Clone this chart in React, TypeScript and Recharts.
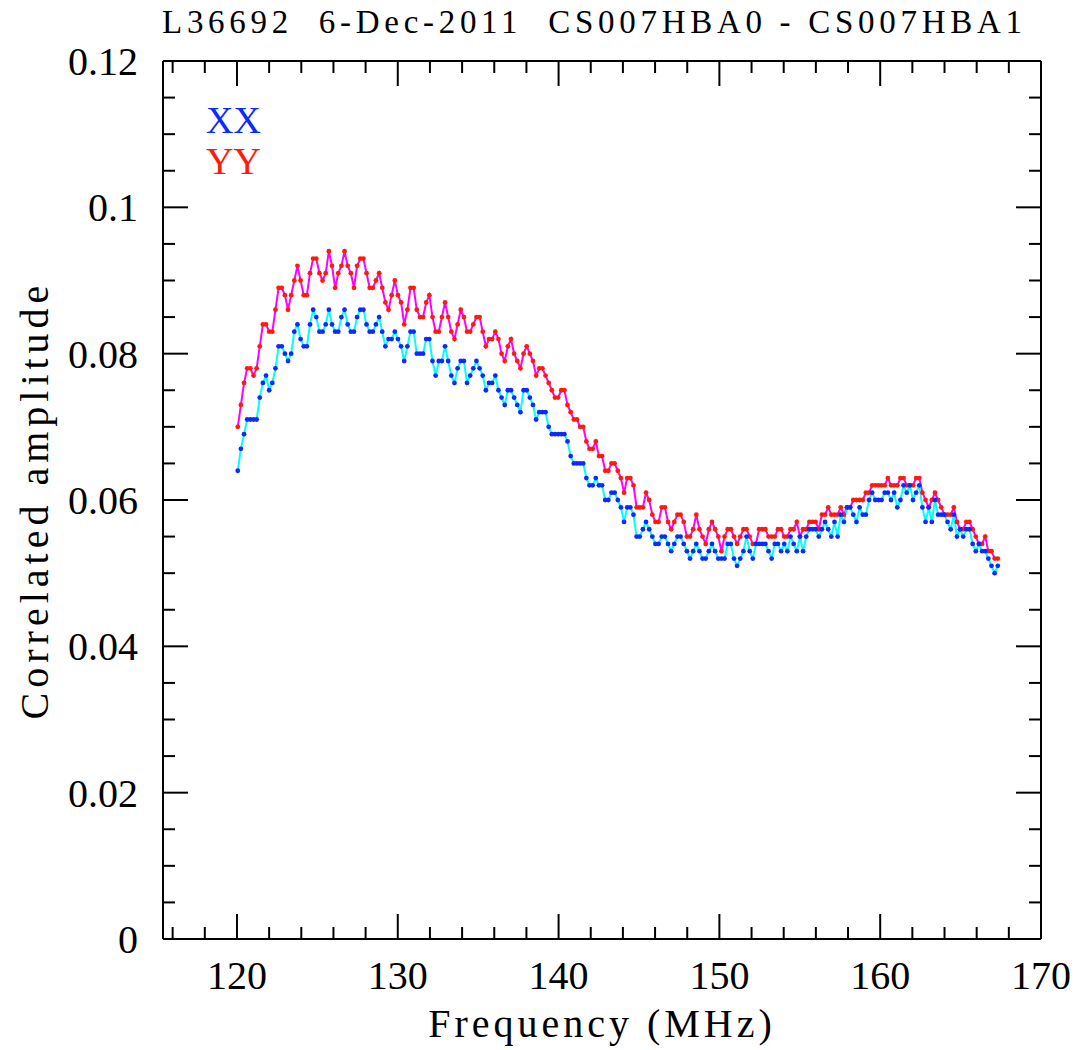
import { LineChart, Line, XAxis, YAxis } from 'recharts'

// correlated amplitude per subband, units of 1e-3
const xxAmp = [
  64, 67, 69, 71, 71, 71, 71, 74, 76, 77, 75, 76, 78, 81, 81, 80, 79, 80, 83, 84, 82, 81, 81, 84, 86, 85, 83, 83, 84,
  86, 84, 83, 83, 85, 86, 84, 83, 83, 85, 86, 86, 84, 83, 83, 84, 85, 83, 81, 82, 82, 83, 82, 81, 79, 81, 83, 83, 80, 80, 80, 82,
  82, 79, 77, 79, 79, 81, 79, 77, 76, 78, 79, 79, 76, 77, 78, 79, 78, 77, 75, 76, 76, 77, 75, 74, 73, 75, 75, 74, 73, 72, 75, 75, 74, 73, 71, 72, 72, 72,
  70, 69, 69, 69, 69, 69, 68, 66, 65, 65, 65, 65, 63, 62, 62, 63, 62, 62, 60, 60, 61, 61, 60, 59, 57, 59, 59, 58, 55, 55, 56, 57,
  56, 55, 54, 54, 55, 55, 54, 53, 54, 55, 55, 54, 53, 52, 53, 54, 53, 52, 52, 53, 54, 53, 52, 52, 52, 54, 54, 52, 51, 52, 53, 55, 53, 52, 54, 54, 54, 54, 53,
  52, 54, 54, 53, 54, 53, 55, 54, 53, 55, 53, 55, 56, 56, 56, 55, 56, 57, 56, 55, 57, 55, 58, 57, 59, 59, 58, 57, 59, 58, 58, 60, 61, 60, 60, 60, 61, 61,
  60, 61, 59, 60, 62, 61, 62, 60, 61, 62, 59, 57, 59, 57, 60, 58, 58, 58, 57, 56, 58, 55, 56, 55, 56, 56, 54, 53, 54, 53, 53, 52, 51, 50, 51,
]

const yyAmp = [
  70, 73, 76, 78, 78, 77, 78, 81, 84, 84, 83, 83, 86, 89, 89, 88, 86, 88, 90, 92, 90, 88, 88, 91, 93, 93, 91, 90, 91,
  94, 92, 89, 91, 92, 94, 92, 91, 89, 92, 93, 93, 91, 89, 89, 90, 91, 89, 87, 86, 88, 90, 88, 87, 84, 86, 89, 89, 86, 85, 85, 87,
  88, 85, 83, 83, 85, 87, 85, 83, 82, 84, 86, 85, 83, 83, 84, 85, 85, 83, 81, 82, 82, 83, 82, 80, 79, 81, 82, 80, 79, 78, 80, 81, 80, 79, 77, 78, 78, 77,
  76, 75, 74, 74, 75, 75, 73, 72, 71, 71, 70, 70, 68, 67, 67, 68, 66, 66, 64, 64, 65, 65, 64, 63, 61, 63, 63, 62, 59, 59, 59, 61,
  60, 58, 57, 57, 59, 59, 57, 56, 57, 58, 58, 57, 55, 55, 56, 58, 56, 55, 54, 56, 57, 56, 55, 53, 55, 56, 56, 55, 54, 55, 56, 56, 55, 54, 54, 56, 56, 56, 55,
  55, 55, 56, 56, 55, 55, 56, 56, 57, 55, 56, 56, 57, 57, 57, 56, 58, 58, 59, 58, 58, 58, 59, 58, 59, 59, 60, 60, 60, 60, 61, 61, 62, 62, 62, 62, 62, 63,
  62, 62, 62, 63, 63, 62, 62, 62, 63, 63, 61, 60, 59, 60, 61, 60, 59, 58, 58, 58, 59, 57, 56, 56, 57, 57, 56, 55, 54, 54, 55, 53, 53, 52, 52,
]

// subband grid (MHz)
const fStart = 120.05
const fStep = 0.1953

const xTicks = [116, 118, 120, 122, 124, 126, 128, 130, 132, 134, 136, 138, 140, 142, 144, 146, 148, 150, 152, 154, 156, 158, 160, 162, 164, 166, 168, 170]
const xLabels = [120, 130, 140, 150, 160, 170]
const yTicks = [0, 0.005, 0.01, 0.015, 0.02, 0.025, 0.03, 0.035, 0.04, 0.045, 0.05, 0.055, 0.06, 0.065, 0.07, 0.075, 0.08, 0.085, 0.09, 0.095, 0.1, 0.105, 0.11, 0.115, 0.12]
const yLabels = [0, 0.02, 0.04, 0.06, 0.08, 0.1, 0.12]

const data = xxAmp.map((v, i) => ({
  f: fStart + i * fStep,
  xx: v / 1000,
  yy: yyAmp[i] / 1000,
}))

const FONT = '"Liberation Serif", "DejaVu Serif", serif'
const MAJ = 25
const MIN = 12

const isX = (v: number) => xLabels.some(m => Math.abs(m - v) < 1e-6)
const isY = (v: number) => yLabels.some(m => Math.abs(m - v) < 1e-9)

const BottomTick = ({ x, y, payload }: any) => {
  const major = isX(payload.value)
  return (
    <g>
      <line x1={x} x2={x} y1={y} y2={y - (major ? MAJ : MIN)} stroke="#000" strokeWidth={2} />
      {major && (
        <text x={x} y={y + 50} textAnchor="middle" fontFamily={FONT} fontSize={40} fill="#000">{payload.value}</text>
      )}
    </g>
  )
}

const TopTick = ({ x, y, payload }: any) => (
  <line x1={x} x2={x} y1={y} y2={y + (isX(payload.value) ? MAJ : MIN)} stroke="#000" strokeWidth={2} />
)

const LeftTick = ({ x, y, payload }: any) => {
  const major = isY(payload.value)
  return (
    <g>
      <line x1={x} x2={x + (major ? MAJ : MIN)} y1={y} y2={y} stroke="#000" strokeWidth={2} />
      {major && (
        <text x={x - 25} y={y + 14} textAnchor="end" fontFamily={FONT} fontSize={40} fill="#000">{String(payload.value)}</text>
      )}
    </g>
  )
}

const RightTick = ({ x, y, payload }: any) => (
  <line x1={x} x2={x - (isY(payload.value) ? MAJ : MIN)} y1={y} y2={y} stroke="#000" strokeWidth={2} />
)

const frame = { stroke: '#000', strokeWidth: 2 }

export default function App() {
  return (
    <div style={{ position: 'absolute', left: 0, top: 0, width: 1079, height: 1050, background: '#fff' }}>
      <LineChart width={1079} height={1050} data={data} margin={{ top: 0, right: 0, bottom: 0, left: 0 }}>
        <XAxis xAxisId="b" dataKey="f" type="number" domain={[115.4, 170]} ticks={xTicks} interval={0}
          height={111} axisLine={frame} tickLine={false} tickSize={0} tickMargin={0} tick={<BottomTick />} allowDataOverflow />
        <XAxis xAxisId="t" orientation="top" dataKey="f" type="number" domain={[115.4, 170]} ticks={xTicks} interval={0}
          height={61} axisLine={frame} tickLine={false} tickSize={0} tickMargin={0} tick={<TopTick />} allowDataOverflow />
        <YAxis yAxisId="l" type="number" domain={[0, 0.12]} ticks={yTicks} interval={0}
          width={163} axisLine={frame} tickLine={false} tickSize={0} tickMargin={0} tick={<LeftTick />} allowDataOverflow />
        <YAxis yAxisId="r" orientation="right" type="number" domain={[0, 0.12]} ticks={yTicks} interval={0}
          width={38} axisLine={frame} tickLine={false} tickSize={0} tickMargin={0} tick={<RightTick />} allowDataOverflow />
        <Line xAxisId="b" yAxisId="l" type="linear" dataKey="yy" stroke="#ff00ff" strokeWidth={2}
          dot={{ r: 2.4, fill: '#ff1a0a', stroke: 'none' }} activeDot={false} isAnimationActive={false} />
        <Line xAxisId="b" yAxisId="l" type="linear" dataKey="xx" stroke="#00ffff" strokeWidth={2}
          dot={{ r: 2.4, fill: '#0a2aff', stroke: 'none' }} activeDot={false} isAnimationActive={false} />
        <Line xAxisId="t" yAxisId="r" dataKey="xx" stroke="none" dot={false} activeDot={false} isAnimationActive={false} />
      </LineChart>
      <svg width={1079} height={1050} style={{ position: 'absolute', left: 0, top: 0, pointerEvents: 'none' }}>
        <text x={162} y={33} textLength={860} lengthAdjust="spacing" fontFamily={FONT} fontSize={33} fill="#000"
          style={{ whiteSpace: 'pre' }}>
          {'L36692  6-Dec-2011  CS007HBA0 - CS007HBA1'}
        </text>
        <text x={602} y={1037} textAnchor="middle" fontFamily={FONT} fontSize={40} letterSpacing={4} fill="#000">
          Frequency (MHz)
        </text>
        <text transform="translate(48,500) rotate(-90)" textAnchor="middle" fontFamily={FONT} fontSize={40} letterSpacing={5} fill="#000">
          Correlated amplitude
        </text>
        <text x={206} y={133} fontFamily={FONT} fontSize={38} fill="#0a2aff">XX</text>
        <text x={206} y={174} fontFamily={FONT} fontSize={38} fill="#ff1a0a">YY</text>
      </svg>
    </div>
  )
}
